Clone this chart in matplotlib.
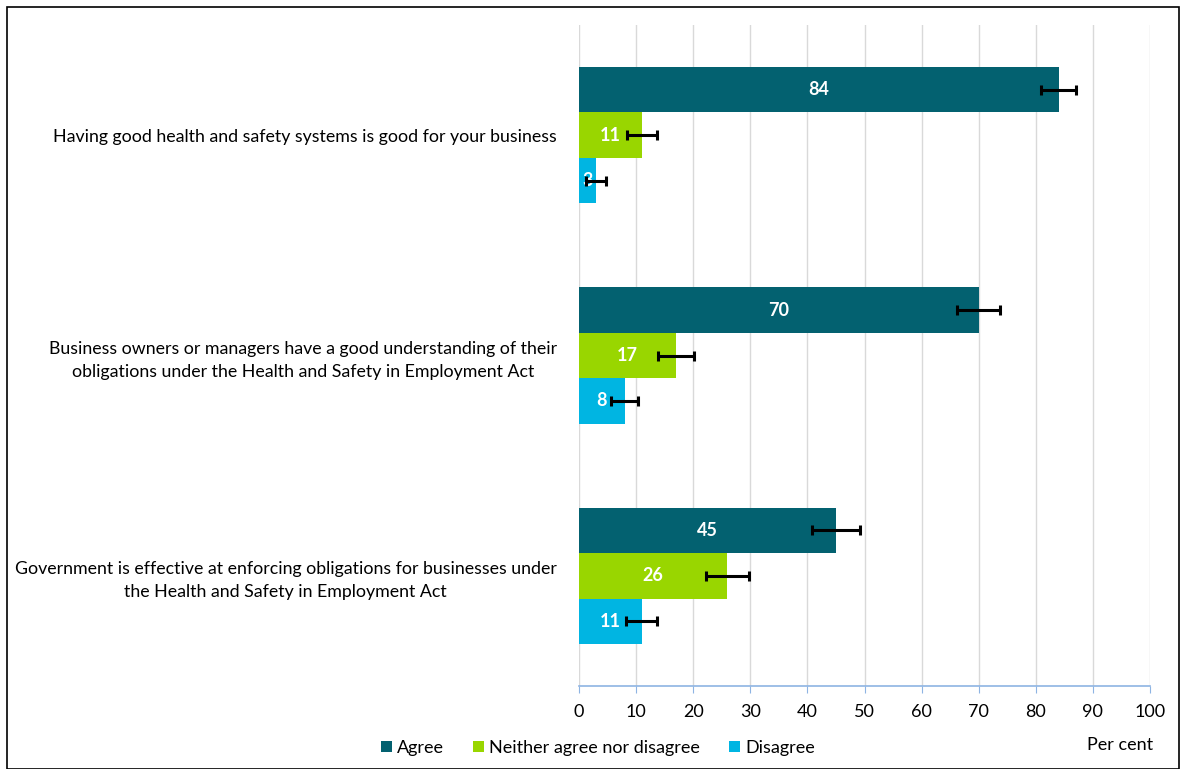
import matplotlib
matplotlib.use("Agg")
import matplotlib.pyplot as plt
import numpy as np

categories = [
    "Having good health and safety systems is good for your business",
    "Business owners or managers have a good understanding of their\nobligations under the Health and Safety in Employment Act",
    "Government is effective at enforcing obligations for businesses under\nthe Health and Safety in Employment Act",
]
series_names = ["Agree", "Neither agree nor disagree", "Disagree"]
agree = [84, 70, 45]
neither = [11, 17, 26]
disagree = [3, 8, 11]
agree_err = [3.1, 3.8, 4.2]
neither_err = [2.6, 3.2, 3.7]
disagree_err = [1.7, 2.4, 2.7]
colors = ["#036170", "#99D600", "#00B5E2"]
xticks = list(range(0, 101, 10))

plt.rcParams['font.family'] = ['Lato', 'DejaVu Sans']

fig = plt.figure(figsize=(11.8, 7.69), dpi=100)
ax = fig.add_axes([579/1180, 1-686/769, (1150-579)/1180, (686-25)/769])

y = np.arange(len(categories))
h = 0.206
offsets = [-h, 0, h]
all_vals = [agree, neither, disagree]
all_errs = [agree_err, neither_err, disagree_err]
for vals, errs, off, col, name in zip(all_vals, all_errs, offsets, colors, series_names):
    ax.barh(y + off, vals, height=h, color=col, label=name, zorder=2)
    ax.errorbar(vals, y + off, xerr=errs, fmt='none', ecolor='black', elinewidth=2.2,
                capsize=3.5, capthick=2.2, zorder=4)
    for yi, v in zip(y + off, vals):
        ax.text(v / 2, yi, str(v), ha='center', va='center', color='white',
                fontsize=13, fontweight='bold', zorder=3)

ax.set_ylim(len(categories) - 0.5, -0.5)
ax.set_xlim(0, 100)
ax.set_xticks(xticks)
ax.set_xticklabels([str(t) for t in xticks], fontsize=13)
ax.set_yticks(y)
ax.set_yticklabels(categories, fontsize=12.8, multialignment='center', linespacing=1.55)
ax.tick_params(axis='y', length=0, pad=16)
ax.tick_params(axis='x', length=5, color='#8EB4E3', pad=8)
ax.grid(axis='x', color='#D9D9D9', linewidth=1, zorder=0)
ax.set_axisbelow(True)
for s in ['top', 'right', 'left']:
    ax.spines[s].set_visible(False)
ax.spines['bottom'].set_color('#8EB4E3')
ax.spines['bottom'].set_linewidth(1.2)

fig.legend(loc='center', bbox_to_anchor=(598/1180, 1-748/769), ncol=3, frameon=False,
           fontsize=13, handlelength=0.6, handleheight=0.6, handletextpad=0.3,
           columnspacing=1.6)
fig.text(1120/1180, 1-745/769, "Per cent", ha='center', va='center', fontsize=13)

border = plt.Rectangle((7/1180, 0), 1 - 7/1180 - 1/1180, 1 - 7/769, transform=fig.transFigure,
                       fill=False, edgecolor='black', linewidth=1.2)
fig.patches.append(border)

fig.savefig("out.png", dpi=100)
